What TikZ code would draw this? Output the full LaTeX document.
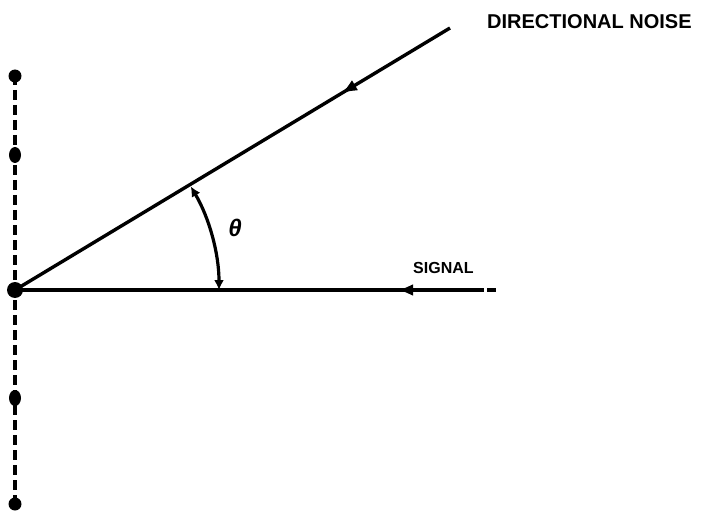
\documentclass[tikz,border=0pt]{standalone}
\usepackage{fontspec}
\setmainfont{Liberation Sans}
\usetikzlibrary{arrows.meta,decorations.markings,shapes.geometric}
\begin{document}
\begin{tikzpicture}[x=1pt,y=-1pt,
  ln/.style={line width=3.4pt},
  blob/.style={ellipse,fill=black,inner sep=0pt,minimum width=12pt,minimum height=16pt},
  rdot/.style={circle,fill=black,inner sep=0pt,minimum size=13pt},
  lbl/.style={font=\bfseries\fontsize{#1}{#1}\selectfont,inner sep=0pt,anchor=west},
  mid/.style={postaction={decorate},decoration={markings,mark=at position #1 with {\arrowreversed{Latex[length=16pt,width=12pt]}}}}
]
\useasboundingbox (0,0) rectangle (702,516);
\coordinate (O) at (15,290);
\coordinate (N) at (450,28);
\coordinate (S) at (484,290);
\coordinate (S1) at (487,290);
\coordinate (S2) at (496,290);
\coordinate (Vt) at (15,75);
\coordinate (Vb) at (15,505);
% vertical dashed line
\draw[line width=3.2pt,dash pattern=on 10pt off 5pt] (Vt) -- (Vb);
\node[rdot] (d1) at (15,76) {};
\node[blob] (d2) at (15,155) {};
\node[blob,minimum width=16pt] (d3) at (O) {};
\node[blob] (d4) at (15,398) {};
\node[rdot] (d5) at (15,504) {};
% lines
\draw[ln,mid=0.75] (O) -- (N);
\draw[ln,mid=0.815] (O) -- (S);
\draw[ln] (S1) -- (S2);
% angle arc
\draw[line width=3.2pt,{Latex[length=10pt,width=10pt]}-{Latex[length=10pt,width=10pt]}]
  ([shift={(0:204)}]O) arc[start angle=0,end angle=-30.5,radius=204];
\node[font=\bfseries\itshape\fontsize{24}{24}\selectfont] (th) at (235,228) {θ};
% labels
\node[lbl=20] (ln) at (487,22) {DIRECTIONAL NOISE};
\node[lbl=16] (ls) at (413,268) {SIGNAL};
\end{tikzpicture}
\end{document}
